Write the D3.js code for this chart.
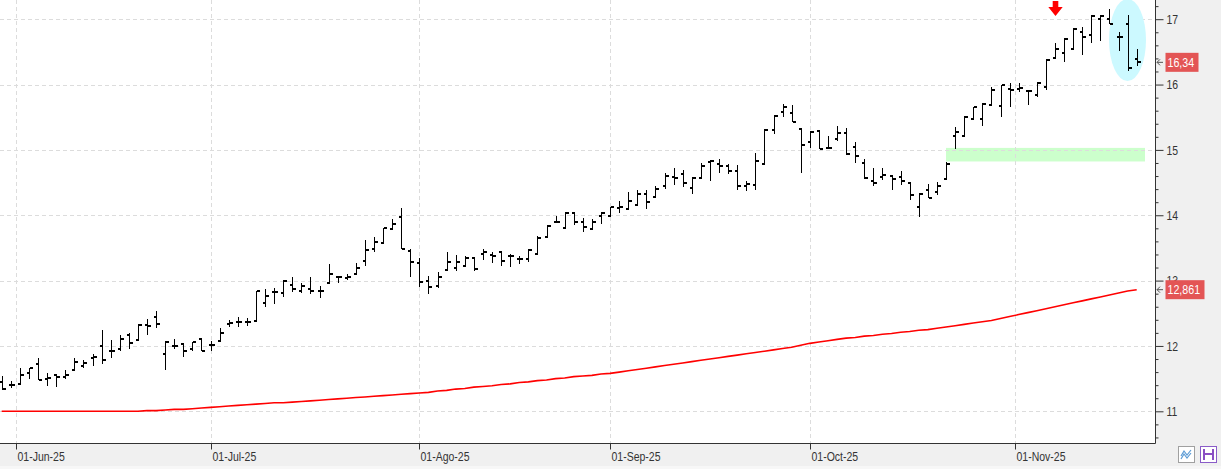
<!DOCTYPE html>
<html><head><meta charset="utf-8">
<script src="https://cdn.jsdelivr.net/npm/d3@7"></script>
<style>body{margin:0;background:#fff;overflow:hidden}svg{display:block}</style>
</head><body><svg id="c" width="1221" height="469"></svg>
<script>
// ---- data ----
const firstDay = "2025-05-29", lastDay = "2025-11-20";
const openV = [11.45,11.40,11.42,11.59,11.72,11.50,11.55,11.53,11.63,11.70,11.81,12.00,11.93,11.96,12.16,12.09,12.32,12.45,11.88,12.00,12.03,11.95,12.11,12.01,12.08,
12.33,12.36,12.37,12.38,12.65,12.82,12.81,12.93,12.84,12.87,12.84,12.96,13.05,13.04,13.10,13.30,13.49,13.58,13.79,13.97,13.45,
13.27,12.99,12.92,13.16,13.19,13.22,13.35,13.40,13.39,13.43,13.37,13.33,13.33,13.40,13.66,13.89,13.81,14.04,13.89,13.79,13.99,
13.99,14.11,14.09,14.16,14.32,14.28,14.45,14.58,14.63,14.41,14.57,14.81,14.78,14.76,14.67,14.45,14.46,14.79,15.30,15.58,15.56,15.32,
15.12,15.29,15.03,15.16,15.26,15.05,14.80,14.53,14.59,14.60,14.59,14.50,14.12,14.38,14.35,14.55,15.21,15.21,15.47,15.47,15.69,15.67,15.93,
15.93,15.90,15.84,15.96,16.40,16.48,16.55,16.80,16.76,17.00,17.00,16.73,16.92,16.39];
const highV = [11.54,11.46,11.67,11.67,11.81,11.58,11.55,11.63,11.81,11.79,11.88,12.25,12.09,12.16,12.20,12.33,12.42,12.53,12.08,12.10,12.05,12.06,12.11,12.08,12.28,
12.39,12.44,12.43,12.84,12.87,12.88,13.01,13.05,12.97,13.05,12.91,13.25,13.07,13.10,13.27,13.62,13.67,13.80,13.94,14.11,13.49,
13.34,13.07,13.13,13.44,13.39,13.37,13.36,13.49,13.44,13.44,13.41,13.38,13.48,13.68,13.85,13.99,14.05,14.05,13.96,13.94,14.05,
14.13,14.22,14.36,14.39,14.39,14.45,14.64,14.73,14.69,14.59,14.80,14.85,14.86,14.78,14.77,14.52,14.96,15.32,15.54,15.70,15.69,15.32,
15.29,15.29,15.21,15.37,15.34,15.12,14.86,14.72,14.72,14.60,14.68,14.51,14.34,14.48,14.51,14.81,15.35,15.52,15.65,15.72,15.97,16.00,16.02,
16.03,15.92,16.04,16.39,16.63,16.71,16.86,16.88,17.07,17.06,17.15,16.80,17.06,16.54];
const lowV = [11.33,11.35,11.41,11.50,11.48,11.39,11.37,11.50,11.63,11.67,11.69,11.72,11.82,11.92,11.96,12.09,12.16,12.28,11.63,11.96,11.83,11.92,11.92,11.93,12.07,
12.29,12.29,12.31,12.37,12.59,12.64,12.75,12.83,12.81,12.79,12.74,12.96,12.96,13.01,13.09,13.22,13.43,13.57,13.79,13.48,13.06,
12.90,12.79,12.89,13.15,13.14,13.21,13.15,13.32,13.27,13.23,13.21,13.26,13.28,13.39,13.66,13.88,13.79,13.85,13.74,13.77,13.87,
13.97,14.03,14.09,14.16,14.09,14.28,14.40,14.46,14.43,14.32,14.57,14.52,14.65,14.63,14.38,14.37,14.38,14.79,15.24,15.50,15.42,14.65,
15.03,15.01,15.01,15.14,14.92,14.80,14.55,14.44,14.54,14.38,14.47,14.23,13.97,14.27,14.31,14.54,15.01,15.20,15.46,15.37,15.69,15.51,15.65,
15.88,15.68,15.81,15.91,16.39,16.34,16.54,16.45,16.63,16.67,16.93,16.52,16.21,16.29];
const closeV = [11.34,11.40,11.55,11.67,11.48,11.51,11.52,11.55,11.76,11.74,11.83,11.78,11.92,12.11,12.05,12.32,12.30,12.34,12.06,12.00,11.93,12.06,11.93,12.02,12.20,
12.35,12.37,12.37,12.84,12.77,12.82,13.00,12.87,12.92,12.84,12.84,13.10,13.05,13.06,13.20,13.47,13.59,13.80,13.87,13.48,13.29,
12.98,12.90,13.06,13.28,13.28,13.34,13.18,13.43,13.37,13.30,13.37,13.33,13.47,13.65,13.84,13.90,14.04,13.89,13.82,13.90,14.03,
14.12,14.12,14.22,14.33,14.20,14.40,14.60,14.57,14.50,14.57,14.75,14.83,14.75,14.67,14.45,14.48,14.83,15.30,15.52,15.65,15.42,15.08,
15.28,15.01,15.03,15.26,14.93,14.91,14.57,14.50,14.61,14.55,14.52,14.31,14.32,14.27,14.44,14.79,15.28,15.50,15.65,15.70,15.92,15.99,15.92,
15.95,15.90,16.03,16.38,16.54,16.70,16.85,16.72,17.05,17.05,16.93,16.73,16.26,16.34];
const maV = [11.00,11.00,11.00,11.00,11.00,11.00,11.00,11.00,11.00,11.00,11.00,11.00,11.00,11.00,11.00,
11.00,11.01,11.01,11.02,11.03,11.03,11.04,11.05,11.06,
11.07,11.08,11.09,11.10,11.11,11.12,11.13,11.13,11.14,11.15,11.16,11.17,11.18,11.19,11.20,11.21,11.22,11.23,11.24,11.25,11.26,11.27,11.28,
11.29,11.31,11.32,11.34,11.35,11.37,11.38,11.39,11.41,11.42,11.44,11.45,11.47,11.48,11.50,11.51,11.53,11.54,11.55,11.57,11.58,
11.60,11.62,11.64,11.66,11.68,11.70,11.72,11.74,11.76,11.78,11.80,11.82,11.84,11.86,11.88,11.90,11.92,11.94,11.96,11.98,12.01,12.04,
12.06,12.08,12.10,12.12,12.13,12.15,12.16,12.18,12.19,12.21,12.22,12.24,12.25,12.27,12.29,12.31,12.33,12.35,12.37,12.39,12.42,12.45,
12.48,12.51,12.54,12.57,12.60,12.63,12.66,12.69,12.72,12.75,12.78,12.81,12.84,12.861];
const monthLabels = ["01-Jun-25","01-Jul-25","01-Ago-25","01-Sep-25","01-Oct-25","01-Nov-25"];
const priceTicks = [11,12,13,14,15,16,17];
const lastCloseLabel = "16,34";
const lastMALabel = "12,861";
const zoneLow = 14.80, zoneHigh = 15.00;     // green zone
const zoneStartDate = "2025-10-22";

// ---- layout ----
const W = 1221, H = 469, plotR = 1155.5, plotB = 443.5;
const svg = d3.select("#c");
const FONT = "'Liberation Sans',Arial,sans-serif";
// simulate a narrow face by compressing the glyphs horizontally
function narrow(sel, f) {
  sel.each(function () {
    const len = this.getComputedTextLength();
    d3.select(this).attr("textLength", (len * f).toFixed(1)).attr("lengthAdjust", "spacingAndGlyphs");
  });
}

const parse = d3.utcParse("%Y-%m-%d");
const dates = d3.utcDay.range(parse(firstDay), d3.utcDay.offset(parse(lastDay), 1))
  .filter(d => d.getUTCDay() !== 0 && d.getUTCDay() !== 6);
const n = dates.length;
const x = d3.scalePoint().domain(d3.range(n)).range([1.7, 1136.7]);
const step = x.step();
const y = d3.scaleLinear().domain([11, 17]).range([411.3, 19.2]);

svg.append("rect").attr("width", W).attr("height", H).attr("fill", "#fff");

// month tick positions
const monthPos = [];
[5,6,7,8,9,10].forEach(m => {
  const i = dates.findIndex(d => d.getUTCMonth() === m);
  const px = dates[i].getUTCDate() === 1 ? x(i) : x(i) - step * 0.45;
  monthPos.push(px);
});

// green zone
const zi = dates.findIndex(d => +d === +parse(zoneStartDate));
svg.append("rect").attr("x", x(zi)).attr("y", y(zoneHigh) - 2)
  .attr("width", 1145 - x(zi)).attr("height", y(zoneLow) - y(zoneHigh) + 0.5)
  .attr("fill", "#ccffcc");

// grid
const grid = svg.append("g").attr("stroke", "#dcdcdc").attr("stroke-dasharray", "4,3").attr("stroke-width", 1);
priceTicks.forEach(v => grid.append("line").attr("x1", 0).attr("x2", plotR)
  .attr("y1", Math.round(y(v)) + 0.5).attr("y2", Math.round(y(v)) + 0.5));
monthPos.forEach(px => grid.append("line").attr("y1", 0).attr("y2", plotB)
  .attr("x1", Math.round(px) + 0.5).attr("x2", Math.round(px) + 0.5));

// cyan highlight ellipse
svg.append("ellipse").attr("cx", 1127.5).attr("cy", 40).attr("rx", 18.5).attr("ry", 41)
  .attr("fill", "#ccf9ff");

// moving average
svg.append("path").datum(maV)
  .attr("d", d3.line().x((d, i) => x(i)).y(d => y(d)))
  .attr("fill", "none").attr("stroke", "#ff0000").attr("stroke-width", 1.6);

// OHLC bars
const bars = svg.append("g").attr("stroke", "#000").attr("stroke-width", 1.4).attr("shape-rendering", "crispEdges");
d3.range(n).forEach(i => {
  const cx = Math.round(x(i)) + 0.5;
  bars.append("line").attr("x1", cx).attr("x2", cx).attr("y1", y(highV[i])).attr("y2", y(lowV[i]));
  bars.append("line").attr("x1", cx - 3).attr("x2", cx).attr("y1", Math.round(y(openV[i]))).attr("y2", Math.round(y(openV[i])));
  bars.append("line").attr("x1", cx).attr("x2", cx + 3).attr("y1", Math.round(y(closeV[i]))).attr("y2", Math.round(y(closeV[i])));
});

// red arrow
svg.append("path").attr("d", "M1052.7,1 H1058.3 V7 H1062.7 L1055.5,16 L1048.3,7 H1052.7 Z").attr("fill", "#ff0000");

// panels
svg.append("rect").attr("x", plotR).attr("y", 0).attr("width", W - plotR).attr("height", H).attr("fill", "#f0f0f0");
svg.append("rect").attr("x", 0).attr("y", plotB).attr("width", W).attr("height", H - plotB).attr("fill", "#f0f0f0");
svg.append("rect").attr("x", 0).attr("y", 466).attr("width", W).attr("height", 3).attr("fill", "#f7f7f7");

// right axis
const minorTicks = d3.range(106, 175, 2).map(v => v / 10).filter(v => !priceTicks.includes(v));
const axR = svg.append("g").attr("transform", `translate(${plotR},0)`);
axR.call(d3.axisRight(y).tickValues(minorTicks).tickSize(3).tickFormat(""));
const axR2 = svg.append("g").attr("transform", `translate(${plotR},0)`);
axR2.call(d3.axisRight(y).tickValues(priceTicks).tickSize(8).tickPadding(3).tickFormat(d3.format("d")));
[axR, axR2].forEach(a => {
  a.select(".domain").remove();
  a.selectAll("line").attr("stroke", "#333");
  a.selectAll("text").attr("font-family", FONT).attr("font-size", 13).attr("fill", "#333");
});
narrow(axR2.selectAll("text"), 0.8);
svg.append("line").attr("x1", plotR).attr("x2", plotR).attr("y1", 0).attr("y2", plotB).attr("stroke", "#333");

// bottom axis
svg.append("line").attr("x1", 0).attr("x2", plotR).attr("y1", plotB).attr("y2", plotB).attr("stroke", "#333");
monthPos.forEach((px, k) => {
  const xx = Math.round(px) + 0.5;
  svg.append("line").attr("x1", xx).attr("x2", xx).attr("y1", plotB).attr("y2", plotB + 6).attr("stroke", "#333");
  const t = svg.append("text").attr("x", xx + 1).attr("y", 461).text(monthLabels[k])
    .attr("font-family", FONT).attr("font-size", 12.5).attr("fill", "#333");
  narrow(t, 0.84);
});

// value badges
function badge(v, label, w) {
  const yy = y(v);
  svg.append("path").attr("d", `M1163,${yy} H1157 M1160,${yy - 3} L1157,${yy} L1160,${yy + 3}`)
    .attr("stroke", "#555").attr("fill", "none").attr("stroke-width", 1);
  svg.append("rect").attr("x", 1165.5).attr("y", yy - 9.5).attr("width", w).attr("height", 19).attr("fill", "#e35555");
  const t = svg.append("text").attr("x", 1167.5).attr("y", yy).attr("dy", "0.36em").text(label)
    .attr("font-family", FONT).attr("font-size", 13).attr("fill", "#fff");
  narrow(t, 0.82);
}
badge(closeV[n - 1], lastCloseLabel, 33);
badge(maV[n - 1], lastMALabel, 39);

// icons
svg.append("rect").attr("x", 1178.5).attr("y", 446.5).attr("width", 16).attr("height", 16).attr("fill", "#fff").attr("stroke", "#a0a0a0");
svg.append("path").attr("d", "M1181,456 L1184,451 L1187,455 L1191,450 M1181,459 L1184,454 L1187,458 L1191,453")
  .attr("stroke", "#5b9bd5").attr("fill", "none").attr("stroke-width", 1.2);
svg.append("rect").attr("x", 1200.5).attr("y", 446.5).attr("width", 16).attr("height", 16).attr("fill", "#fff").attr("stroke", "#8a5cc8");
svg.append("rect").attr("x", 1203).attr("y", 449).attr("width", 11).attr("height", 11).attr("fill", "#8a4fc4");
svg.append("rect").attr("x", 1205).attr("y", 449).attr("width", 7).attr("height", 4).attr("fill", "#fff");
svg.append("rect").attr("x", 1205).attr("y", 455).attr("width", 7).attr("height", 5).attr("fill", "#fff");
</script></body></html>
